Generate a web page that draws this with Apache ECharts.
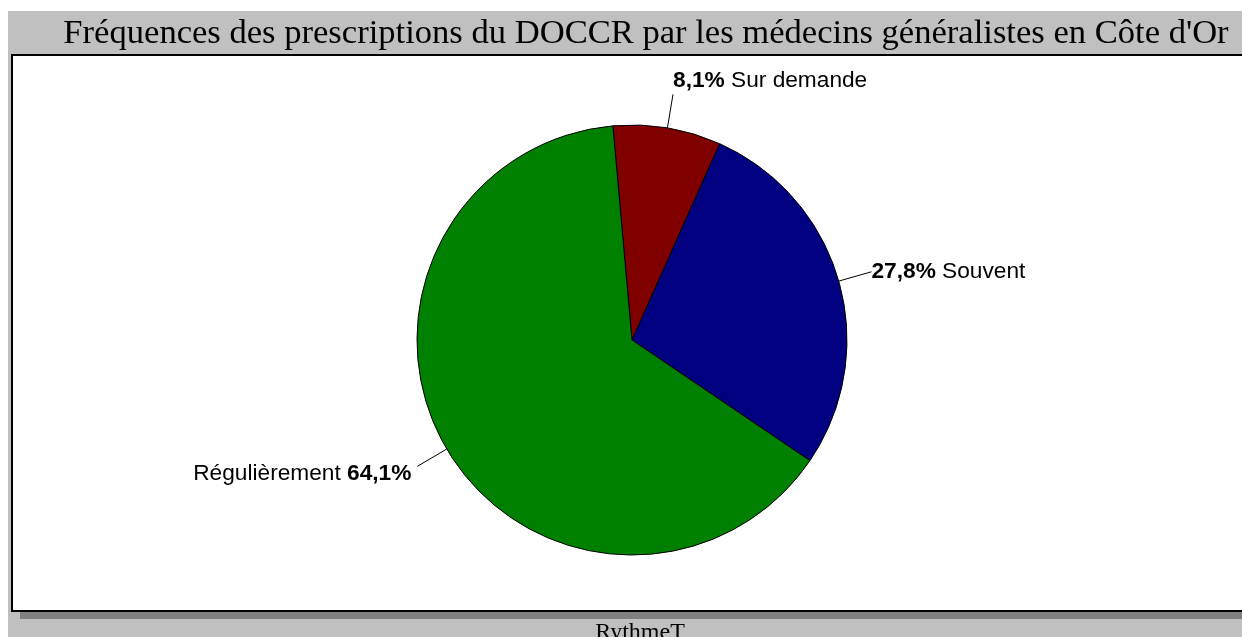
<!DOCTYPE html>
<html>
<head>
<meta charset="utf-8">
<script src="https://cdn.jsdelivr.net/npm/echarts@6/dist/echarts.min.js"></script>
<style>
html,body{margin:0;padding:0;background:#fff;}
#chart{width:1242px;height:637px;}
</style>
</head>
<body>
<div id="chart"></div>
<script>
const titleText = "Fréquences des prescriptions du DOCCR par les médecins généralistes en Côte d'Or";
const axisName = "RythmeT";
const categories = ["Sur demande", "Souvent", "Régulièrement"];
const percents = [8.1, 27.8, 64.1];
const colors = ["#800000", "#000080", "#008000"];

const chart = echarts.init(document.getElementById('chart'), null, {renderer: 'canvas'});

function fmtPct(v) { return v.toFixed(1).replace('.', ',') + '%'; }

const LABEL_FONT = '"Liberation Sans", Arial, sans-serif';
const LABEL_SIZE = 22.7;

const data = categories.map((c, i) => {
  const leftSide = (c === "Régulièrement");
  const item = {
    name: c,
    value: percents[i],
    itemStyle: {color: colors[i]}
  };
  if (i === 0) item.label = {padding: [0, 0, 28, 0]};
  if (leftSide) item.label = {padding: [14, 0, 0, 0], distanceToLabelLine: 6};
  return item;
});

const option = {
  animation: false,
  backgroundColor: '#ffffff',
  graphic: [
    {type: 'rect', z: -10, shape: {x: 8, y: 11, width: 1300, height: 700}, style: {fill: '#c0c0c0'}},
    {type: 'rect', z: -9, shape: {x: 20, y: 611, width: 1300, height: 8}, style: {fill: '#808080'}},
    {type: 'rect', z: -8, shape: {x: 12, y: 55, width: 1300, height: 556}, style: {fill: '#ffffff', stroke: '#000000', lineWidth: 2}},
    {type: 'text', z: 10, x: 646, y: 34, style: {text: titleText, fill: '#000', font: '34.6px "Liberation Serif", "Times New Roman", serif', textAlign: 'center', textVerticalAlign: 'middle'}},
    {type: 'text', z: 10, x: 640, y: 633, style: {text: axisName, fill: '#000', font: '24px "Liberation Serif", "Times New Roman", serif', textAlign: 'center', textVerticalAlign: 'middle'}}
  ],
  series: [{
    type: 'pie',
    center: [632, 340],
    radius: 215,
    startAngle: 95.1,
    clockwise: true,
    avoidLabelOverlap: false,
    emphasis: {disabled: true},
    itemStyle: {borderColor: '#000', borderWidth: 1},
    label: {
      show: true,
      position: 'outside',
      fontFamily: LABEL_FONT,
      fontSize: LABEL_SIZE,
      color: '#000',
      distanceToLabelLine: 0,
      formatter: function (p) {
        const pct = fmtPct(p.value);
        if (p.name === "Régulièrement") return '{n|' + p.name + '} {b|' + pct + '}';
        return '{b|' + pct + '} {n|' + p.name + '}';
      },
      rich: {
        b: {fontWeight: 'bold', fontSize: LABEL_SIZE, fontFamily: LABEL_FONT, color: '#000'},
        n: {fontSize: LABEL_SIZE, fontFamily: LABEL_FONT, color: '#000'}
      }
    },
    labelLine: {show: true, length: 34, length2: 0, smooth: false, lineStyle: {color: '#000', width: 1}},
    data: data
  }]
};
chart.setOption(option);
</script>
</body>
</html>
